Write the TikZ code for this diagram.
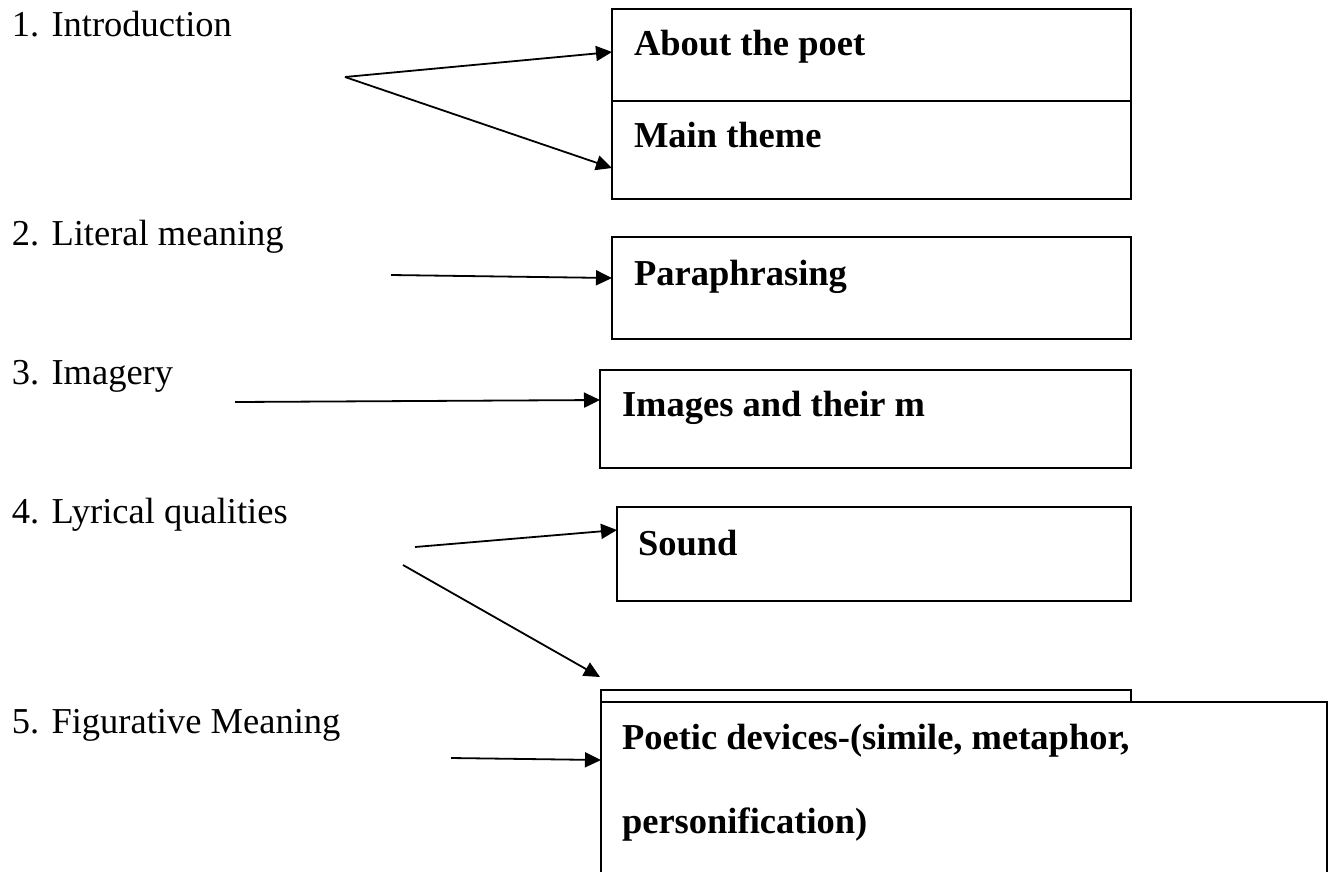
\documentclass[tikz,border=0pt]{standalone}
\usepackage{fontspec}
\setmainfont{Liberation Serif}
\usetikzlibrary{arrows.meta,calc}
\tikzset{
  boxshape/.style={draw=black, line width=2.2pt, fill=white, rectangle, inner sep=0pt, outer sep=0pt, anchor=north west},
  lbl/.style={anchor=base west, inner sep=0pt, outer sep=0pt, font=\fontsize{36.5}{40}\selectfont},
  boxtxt/.style={anchor=base west, inner sep=0pt, outer sep=0pt, font=\fontsize{36.5}{40}\selectfont\bfseries},
  conn/.style={draw=black, line width=1.8pt, -{Triangle[length=16pt,width=15pt]}}
}
\begin{document}
\begin{tikzpicture}[x=1pt,y=-1pt]
\useasboundingbox (0,0) rectangle (1329,871);
\clip (0,0) rectangle (1329,871);
% left labels
\node[lbl] (l1) at (12,36) {1. Introduction};
\node[lbl] (l2) at (12,245) {2. Literal meaning};
\node[lbl] (l3) at (12,384) {3. Imagery};
\node[lbl] (l4) at (12,523) {4. Lyrical qualities};
\node[lbl] (l5) at (12,733) {5. Figurative Meaning};
% boxes
\node[boxshape, minimum width=519pt, minimum height=92pt] (b1a) at (612,9) {};
\node[boxshape, minimum width=519pt, minimum height=98pt] (b1b) at (612,101) {};
\node[boxshape, minimum width=519pt, minimum height=102pt] (b2) at (612,237) {};
\node[boxshape, minimum width=531pt, minimum height=98pt] (b3) at (600,370) {};
\node[boxshape, minimum width=514pt, minimum height=94pt] (b4) at (617,507) {};
\node[boxshape, minimum width=530pt, minimum height=120pt] (b5) at (601,690) {};
\node[boxshape, minimum width=726pt, minimum height=200pt] (b6) at (601,702) {};
% box texts
\node[boxtxt] (t1a) at (634,55) {About the poet};
\node[boxtxt] (t1b) at (634,147) {Main theme};
\node[boxtxt] (t2) at (634,285) {Paraphrasing};
\node[boxtxt] (t3) at (622,416) {Images and their m};
\node[boxtxt] (t4) at (638,555) {Sound};
\node[boxtxt] (t6a) at (622,749) {Poetic devices-(simile, metaphor,};
\node[boxtxt] (t6b) at (622,833) {personification)};
% connector tails
\coordinate (s1) at (345,77);
\coordinate (s2) at (391,275);
\coordinate (s3) at (235,402);
\coordinate (s4a) at (415,547);
\coordinate (s4b) at (403,565);
\coordinate (s5) at (451,758);
\coordinate (e4b) at (600,677);
% connectors
\draw[conn] (s1) -- ($(b1a.north west)+(0,43)$);
\draw[conn] (s1) -- ($(b1b.north west)+(0,67)$);
\draw[conn] (s2) -- ($(b2.north west)+(0,41)$);
\draw[conn] (s3) -- ($(b3.north west)+(0,30)$);
\draw[conn] (s4a) -- ($(b4.north west)+(0,23)$);
\draw[conn] (s4b) -- (e4b);
\draw[conn] (s5) -- ($(b6.north west)+(0,58)$);
\end{tikzpicture}
\end{document}
